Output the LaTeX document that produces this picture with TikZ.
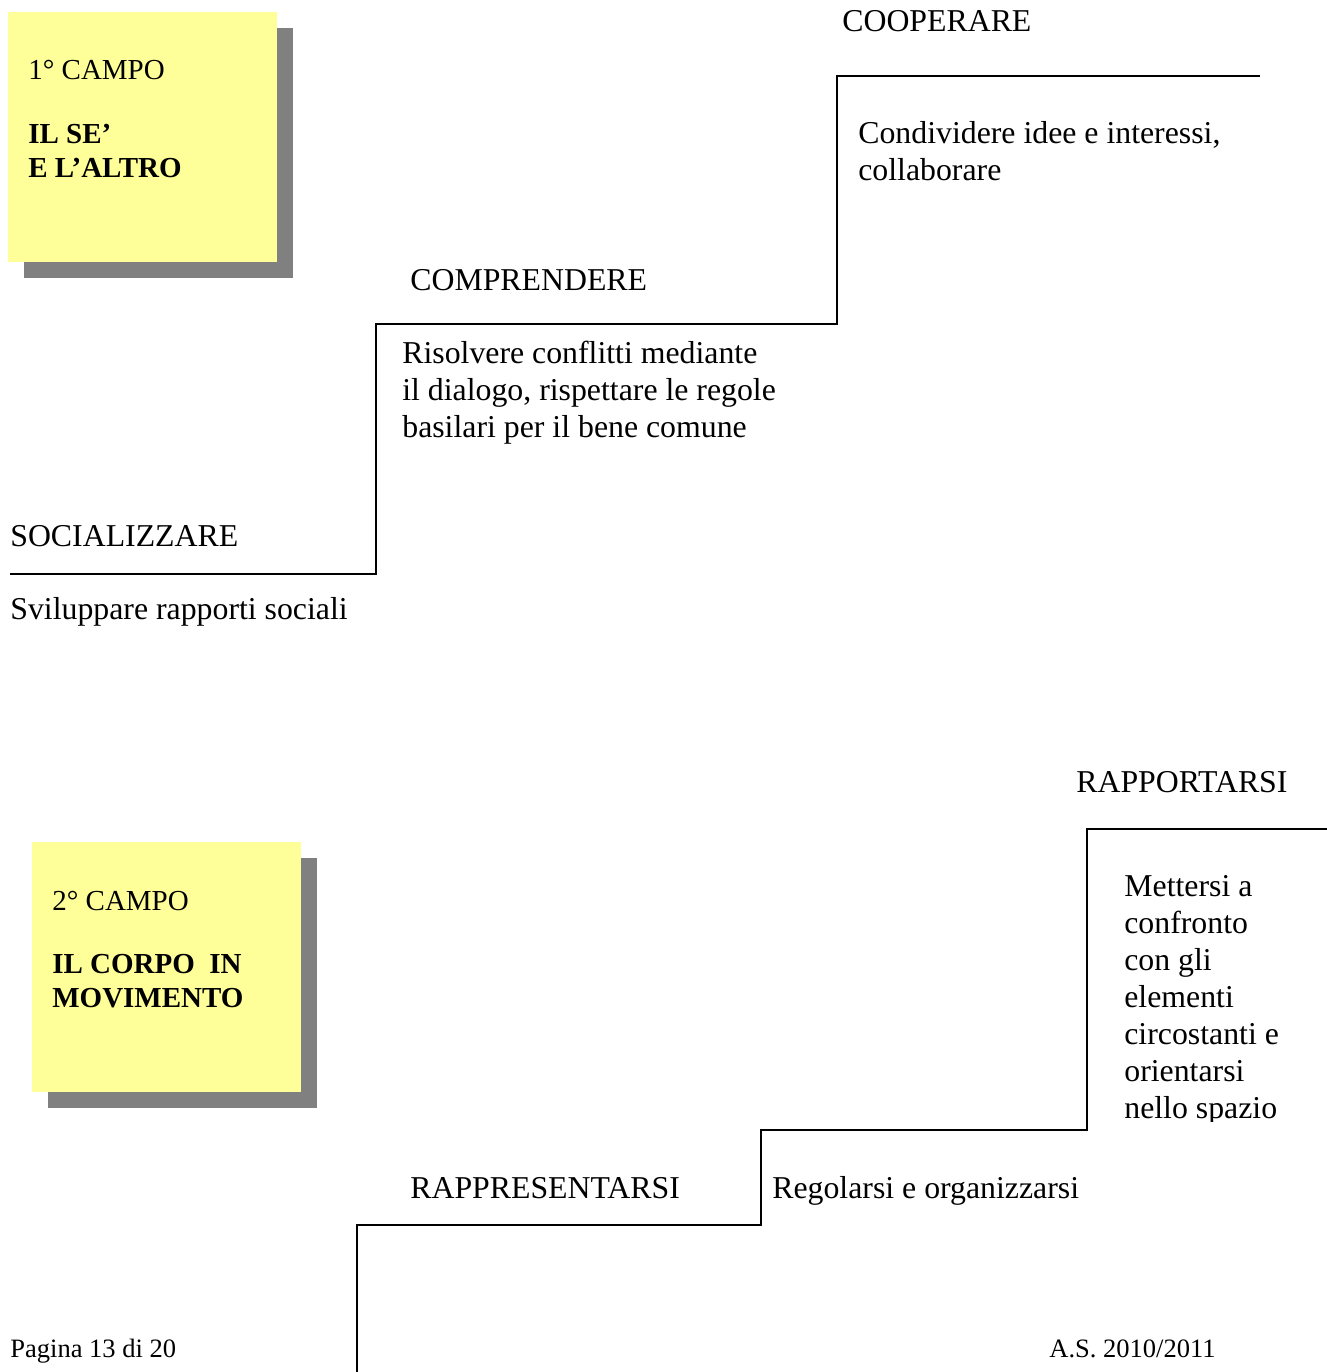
\documentclass[tikz,border=0pt]{standalone}
\usepackage{fontspec}
\setmainfont{Liberation Serif}
\usepackage{tikz}
\usetikzlibrary{positioning}

\definecolor{giallo}{HTML}{FFFF99}
\definecolor{ombra}{HTML}{808080}

\begin{document}
\begin{tikzpicture}[x=0.02cm, y=-0.02cm,
    testo/.style={anchor=base west, inner sep=0pt, align=left, font=\fontsize{18.1}{21}\selectfont},
    campo/.style={anchor=base west, inner sep=0pt, align=left, font=\fontsize{16.5}{18.8}\selectfont},
    titolo/.style={campo, font=\fontsize{16.5}{18.8}\selectfont\bfseries},
    piede/.style={anchor=base west, inner sep=0pt, font=\fontsize{15.1}{17}\selectfont},
    gradino/.style={line width=1.1pt}]
    \useasboundingbox (0,0) rectangle (1327,1372);

    % 1° campo (multi-line nodes sit on their last baseline)
    \fill[ombra] (24,28) rectangle (293,278);
    \fill[giallo] (8,12) rectangle (277,262);
    \node[campo] (campo1) at (28,80) {1° CAMPO};
    \node[titolo] (titolo1) at (28,177) {IL SE’\\E L’ALTRO};

    \draw[gradino] (10,574) -- (376,574) -- (376,324) -- (837,324) -- (837,76) -- (1260,76);
    \node[testo] (social) at (10,546) {SOCIALIZZARE};
    \node[testo] (socialtxt) at (10,619) {Sviluppare rapporti sociali};
    \node[testo] (compr) at (410,290) {COMPRENDERE};
    \node[testo] (comprtxt) at (402,437) {Risolvere conflitti mediante\\il dialogo, rispettare le regole\\basilari per il bene comune};
    \node[testo] (coop) at (842,32) {COOPERARE};
    \node[testo] (cooptxt) at (858,180) {Condividere idee e interessi,\\collaborare};

    % 2° campo
    \fill[ombra] (48,858) rectangle (317,1108);
    \fill[giallo] (32,842) rectangle (301,1092);
    \node[campo] (campo2) at (52,910) {2° CAMPO};
    \node[titolo] (titolo2) at (52,1007) {IL CORPO\ \ IN\\MOVIMENTO};

    \draw[gradino] (357,1372) -- (357,1225) -- (761,1225) -- (761,1130) -- (1087,1130) -- (1087,829) -- (1327,829);
    \node[testo] (rappres) at (410,1198) {RAPPRESENTARSI};
    \node[testo] (regol) at (772,1198) {Regolarsi e organizzarsi};
    \node[testo] (rapport) at (1076,792) {RAPPORTARSI};
    \begin{scope}
        \clip (1090,840) rectangle (1327,1121);
        \node[testo] (rapporttxt) at (1124,1118) {Mettersi a\\confronto\\con gli\\elementi\\circostanti e\\orientarsi\\nello spazio};
    \end{scope}

    \node[piede] (pagina) at (10,1357) {Pagina 13 di 20};
    \node[piede] (anno) at (1049,1357) {A.S. 2010/2011};
\end{tikzpicture}
\end{document}
